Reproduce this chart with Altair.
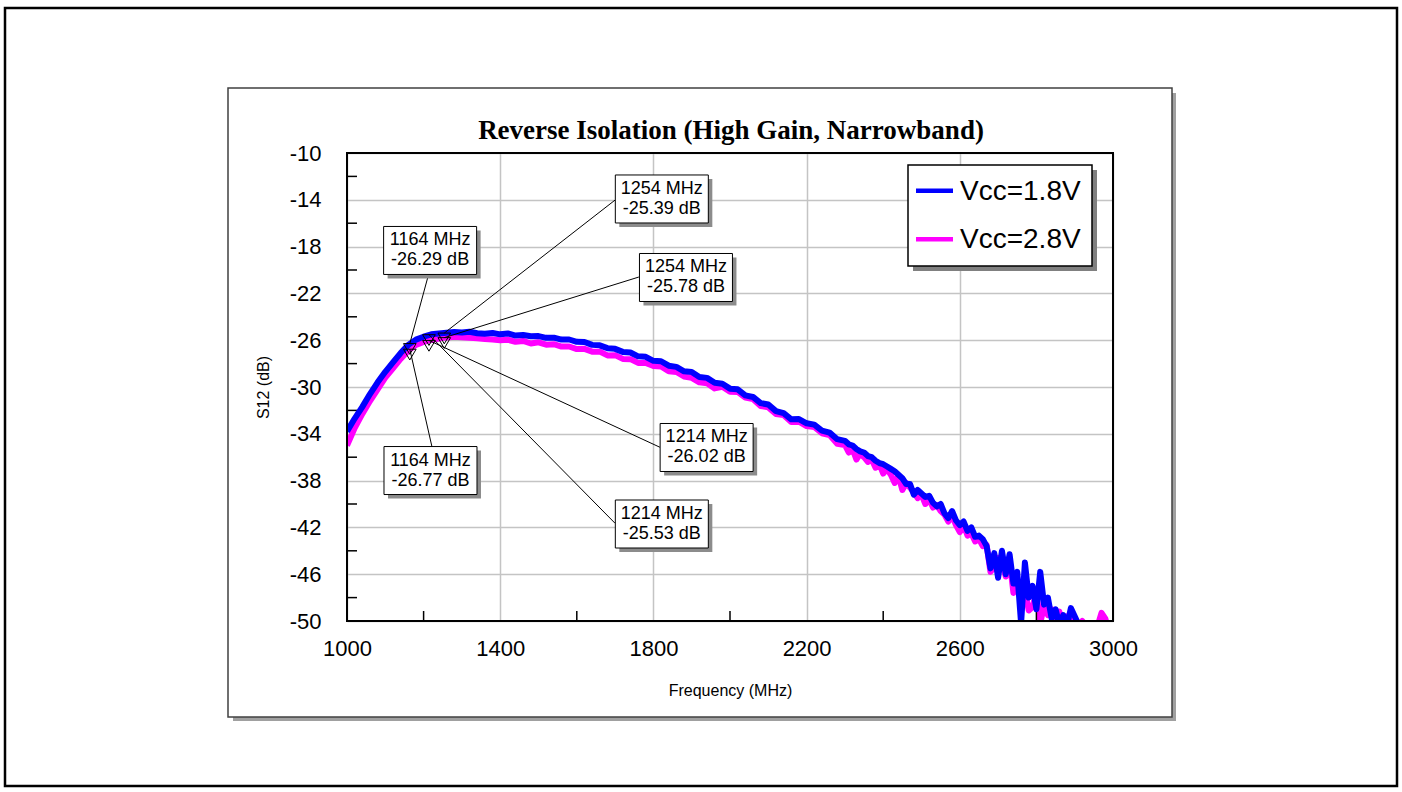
import altair as alt
import pandas as pd

# ---- measured S12 traces (MHz, dB) ----
freq_mhz = [
    1000, 1020, 1040, 1060, 1080, 1100, 1120, 1140, 1160, 1180,
    1200, 1220, 1240, 1260, 1280, 1300, 1320, 1340, 1360, 1380,
    1400, 1420, 1440, 1460, 1480, 1500, 1520, 1540, 1560, 1580,
    1600, 1620, 1640, 1660, 1680, 1700, 1720, 1740, 1760, 1780,
    1800, 1820, 1840, 1860, 1880, 1900, 1920, 1940, 1960, 1980,
    2000, 2020, 2040, 2060, 2080, 2100, 2120, 2140, 2160, 2180,
    2200, 2220, 2240, 2260, 2280, 2300,
    2310, 2320, 2330, 2340, 2350, 2360, 2370, 2380, 2390, 2400,
    2410, 2420, 2430, 2440, 2450, 2460, 2470, 2480, 2490, 2500,
    2510, 2520, 2530, 2540, 2550, 2560, 2570, 2580, 2590, 2600,
    2610, 2620, 2630, 2640, 2650, 2660, 2670, 2680, 2690, 2700,
    2710, 2720, 2730, 2740, 2750, 2760, 2770, 2780, 2790, 2800,
    2810, 2820, 2830, 2840, 2850, 2860, 2870, 2880, 2890, 2900,
    2910, 2920, 2930, 2940, 2950, 2960, 2970, 2980, 2990, 3000,
]

s12_vcc18 = [
    -33.8, -32.7, -31.7, -30.6, -29.6, -28.7, -27.9, -27.1, -26.4, -25.95,
    -25.7, -25.5, -25.42, -25.36, -25.3, -25.35, -25.28, -25.4, -25.45, -25.38,
    -25.5, -25.42, -25.6, -25.55, -25.66, -25.65, -25.8, -25.78, -25.95, -25.94,
    -26.14, -26.15, -26.4, -26.44, -26.68, -26.74, -27.0, -27.05, -27.38, -27.42,
    -27.76, -27.8, -28.18, -28.28, -28.66, -28.72, -29.14, -29.22, -29.64, -29.72,
    -30.14, -30.2, -30.72, -30.85, -31.38, -31.5, -32.06, -32.24, -32.76, -32.74,
    -33.1, -33.22, -33.72, -33.9, -34.46, -34.6,
    -34.9, -35.0, -35.3, -35.5, -35.6, -35.9, -36.0, -36.3, -36.5, -36.6,
    -36.8, -37.0, -37.2, -37.5, -37.8, -38.3, -38.3, -39.2, -38.8, -39.1,
    -39.4, -39.3, -39.9, -40.2, -40.0, -40.8, -41.2, -40.6, -41.4, -41.8,
    -41.5, -42.3, -42.0, -42.8, -42.7, -43.0, -43.6, -45.5, -44.2, -46.3,
    -44.0, -46.0, -44.3, -46.8, -45.8, -50.2, -45.0, -48.0, -47.0, -49.0,
    -45.8, -48.6, -48.0, -49.8, -49.0, -50.3, -49.5, -50.4, -48.9, -49.6,
    -50.3, -51.0, -51.6, -52.2, -52.8, -53.2, -53.6, -54.0, -54.4, -54.8,
]

s12_vcc28 = [
    -35.0, -33.5, -32.3, -31.2, -30.2, -29.2, -28.4, -27.6, -26.9, -26.4,
    -26.15, -25.98, -25.85, -25.76, -25.7, -25.74, -25.8, -25.84, -25.9, -25.94,
    -26.0, -25.96, -26.14, -26.06, -26.28, -26.18, -26.38, -26.34, -26.54, -26.54,
    -26.76, -26.74, -26.98, -26.98, -27.3, -27.28, -27.6, -27.62, -27.94, -27.94,
    -28.2, -28.24, -28.66, -28.72, -29.1, -29.22, -29.6, -29.68, -30.12, -29.98,
    -30.4, -30.42, -30.9, -31.02, -31.62, -31.74, -32.3, -32.4, -33.0, -32.96,
    -33.34, -33.42, -33.95, -34.1, -34.85, -34.95,
    -35.6, -35.3, -36.2, -35.7, -36.0, -36.4, -36.2, -36.9, -36.6, -37.4,
    -37.0, -37.5, -38.2, -37.6, -38.8, -38.2, -38.6, -39.0, -39.5, -39.2,
    -40.0, -39.6, -40.3, -40.1, -40.6, -40.9, -41.5, -41.0, -41.8, -42.4,
    -41.8, -42.7, -42.5, -43.2, -43.0, -43.6, -43.5, -45.8, -45.4, -44.6,
    -45.0, -46.2, -44.8, -47.6, -46.3, -48.0, -47.4, -49.1, -48.8, -47.5,
    -50.2, -48.7, -49.5, -49.0, -50.3, -49.2, -50.5, -49.6, -50.2, -49.8,
    -50.4, -50.0, -50.6, -51.0, -51.5, -50.4, -49.3, -49.8, -51.0, -51.5,
]

series_names = ["Vcc=1.8V", "Vcc=2.8V"]
series_colors = ["#0000FF", "#FF00FF"]

# marker readouts: frequency (MHz) and S12 (dB), one per callout
marker_freq = [1164, 1254, 1254, 1214, 1214, 1164]
marker_db = [-26.29, -25.39, -25.78, -26.02, -25.53, -26.77]

# callout box centres and leader attach points, in axis units
callout_freq = [1217, 1822, 1885, 1939, 1822, 1218]
callout_db = [-18.33, -13.93, -20.64, -35.17, -41.71, -37.14]
attach_freq = [1212, 1700, 1762, 1817, 1700, 1222]
attach_db = [-20.5, -14.02, -20.6, -35.15, -41.65, -35.13]

x_label_values = [1000, 1400, 1800, 2200, 2600, 3000]
x_minor_ticks = [1200, 1600, 2000, 2400, 2800]
y_label_values = [-10, -14, -18, -22, -26, -30, -34, -38, -42, -46, -50]
y_minor_ticks = [-12, -16, -20, -24, -28, -32, -36, -40, -44, -48]

# ---- layout ----
W, H = 766, 468
PX_PER_MHZ = W / 2000.0
PX_PER_DB = H / 40.0
BOX_W, BOX_H = 93, 48
FONT = "Liberation Sans"

curves = pd.concat([
    pd.DataFrame({"freq": freq_mhz, "s12": s12_vcc18, "series": series_names[0]}),
    pd.DataFrame({"freq": freq_mhz, "s12": s12_vcc28, "series": series_names[1]}),
])

callouts = pd.DataFrame({
    "freq": marker_freq,
    "s12": marker_db,
    "ax": attach_freq,
    "ay": attach_db,
    "cx": callout_freq,
    "cy": callout_db,
})
callouts["bx1"] = callouts["cx"] - BOX_W / 2 / PX_PER_MHZ
callouts["bx2"] = callouts["cx"] + BOX_W / 2 / PX_PER_MHZ
callouts["by1"] = callouts["cy"] - BOX_H / 2 / PX_PER_DB
callouts["by2"] = callouts["cy"] + BOX_H / 2 / PX_PER_DB
callouts["label"] = [
    f"{f} MHz\n{v:.2f} dB" for f, v in zip(marker_freq, marker_db)
]

xscale = alt.Scale(domain=[1000, 3000], nice=False, zero=False)
yscale = alt.Scale(domain=[-50, -10], nice=False, zero=False)

plain_label = "'' + datum.value"

xaxis = alt.Axis(
    values=x_label_values, title="Frequency (MHz)", grid=True,
    gridColor="#C4C4C4", gridWidth=1.5, domain=False, ticks=False, tickSize=0,
    labelFont=FONT, labelFontSize=22, labelColor="black", labelPadding=17,
    labelFlush=False, labelOverlap=False, labelExpr=plain_label,
    titleFont=FONT, titleFontSize=16, titleFontWeight="normal",
    titleColor="black", titlePadding=23,
)
yaxis = alt.Axis(
    values=y_label_values, title="S12 (dB)", grid=True,
    gridColor="#C4C4C4", gridWidth=1.5, domain=False, ticks=False, tickSize=0,
    labelFont=FONT, labelFontSize=22, labelColor="black", labelPadding=26,
    labelFlush=False, labelOverlap=False, labelExpr=plain_label,
    titleFont=FONT, titleFontSize=16, titleFontWeight="normal",
    titleColor="black", titlePadding=18,
)


def X(field):
    return alt.X(f"{field}:Q", scale=xscale, axis=xaxis)


def Y(field):
    return alt.Y(f"{field}:Q", scale=yscale, axis=yaxis)


one = pd.DataFrame({"k": [0]})

# outer page frame and the raised panel behind the plot
page_frame = alt.Chart(one).mark_rect(fill=None, stroke="black", strokeWidth=2.5).encode(
    x=alt.value(-342), x2=alt.value(1050), y=alt.value(-145), y2=alt.value(633))
panel_shadow_r = alt.Chart(one).mark_rect(fill="#A0A0A0").encode(
    x=alt.value(825), x2=alt.value(829), y=alt.value(-60), y2=alt.value(568))
panel_shadow_b = alt.Chart(one).mark_rect(fill="#A0A0A0").encode(
    x=alt.value(-114), x2=alt.value(829), y=alt.value(564), y2=alt.value(568))
panel = alt.Chart(one).mark_rect(fill=None, stroke="#404040", strokeWidth=1.5).encode(
    x=alt.value(-119), x2=alt.value(825), y=alt.value(-65), y2=alt.value(564))

title = alt.Chart(one).mark_text(
    font="Liberation Serif", fontSize=27, fontWeight="bold", color="black",
    align="center", baseline="alphabetic",
).encode(x=alt.value(384), y=alt.value(-14),
         text=alt.value("Reverse Isolation (High Gain, Narrowband)"))

# minor ticks
xt = alt.Chart(pd.DataFrame({"freq": x_minor_ticks})).mark_rule(color="black", strokeWidth=1.5).encode(
    x=X("freq"), y=alt.value(H), y2=alt.value(H - 10))
yt = alt.Chart(pd.DataFrame({"s12": y_minor_ticks})).mark_rule(color="black", strokeWidth=1.5).encode(
    y=Y("s12"), x=alt.value(0), x2=alt.value(10))

color = alt.Color("series:N", scale=alt.Scale(domain=series_names, range=series_colors), legend=None)
line_28 = alt.Chart(curves).transform_filter(alt.datum.series == series_names[1]).mark_line(
    strokeWidth=6, clip=True, strokeJoin="round").encode(x=X("freq"), y=Y("s12"), color=color)
line_18 = alt.Chart(curves).transform_filter(alt.datum.series == series_names[0]).mark_line(
    strokeWidth=6, clip=True, strokeJoin="round").encode(x=X("freq"), y=Y("s12"), color=color)

markers = alt.Chart(callouts).mark_point(
    shape="M-1,0L1,0L0,1.7Z", size=160, filled=False, stroke="black", strokeWidth=1, opacity=1,
).encode(x=X("freq"), y=Y("s12"))

leaders = alt.Chart(callouts).mark_rule(color="black", strokeWidth=1).encode(
    x=X("freq"), y=Y("s12"), x2="ax:Q", y2="ay:Q")

box_shadow = alt.Chart(callouts).mark_rect(
    fill="#8C8C8C", xOffset=4, x2Offset=4, yOffset=4, y2Offset=4).encode(
    x=X("bx1"), x2="bx2:Q", y=Y("by1"), y2="by2:Q")
box = alt.Chart(callouts).mark_rect(fill="white", stroke="black", strokeWidth=1).encode(
    x=X("bx1"), x2="bx2:Q", y=Y("by1"), y2="by2:Q")
box_text = alt.Chart(callouts).mark_text(
    font=FONT, fontSize=18, lineBreak="\n", lineHeight=20, align="center",
    baseline="middle", dy=-10, color="black").encode(x=X("cx"), y=Y("cy"), text="label:N")

# legend
leg_shadow = alt.Chart(one).mark_rect(fill="#808080").encode(
    x=alt.value(566), x2=alt.value(750), y=alt.value(17), y2=alt.value(118))
leg_box = alt.Chart(one).mark_rect(fill="white", stroke="black", strokeWidth=1.5).encode(
    x=alt.value(561), x2=alt.value(745), y=alt.value(12), y2=alt.value(113))
legend_layers = [leg_shadow, leg_box]
for i, (name, col) in enumerate(zip(series_names, series_colors)):
    ly = 37.7 + 48.5 * i
    legend_layers.append(alt.Chart(one).mark_rule(color=col, strokeWidth=4.5).encode(
        x=alt.value(569), x2=alt.value(606), y=alt.value(ly)))
    legend_layers.append(alt.Chart(one).mark_text(
        font=FONT, fontSize=28, align="left", baseline="middle", color="black").encode(
        x=alt.value(613), y=alt.value(ly + 1), text=alt.value(name)))

plot_frame = alt.Chart(one).mark_rect(fill=None, stroke="black", strokeWidth=2).encode(
    x=alt.value(0), x2=alt.value(W), y=alt.value(0), y2=alt.value(H))

chart = alt.layer(
    line_28, page_frame, panel_shadow_r, panel_shadow_b, panel, title, xt, yt,
    line_18, markers, leaders, box_shadow, box, box_text,
    *legend_layers, plot_frame,
).properties(
    width=W, height=H,
    autosize=alt.AutoSizeParams(type="none"),
    padding={"left": 347, "top": 153, "right": 1402 - 347 - W, "bottom": 792 - 153 - H},
    background="white",
).configure_view(stroke=None)

chart.save("out.html", embed_options={"renderer": "svg", "actions": False})
